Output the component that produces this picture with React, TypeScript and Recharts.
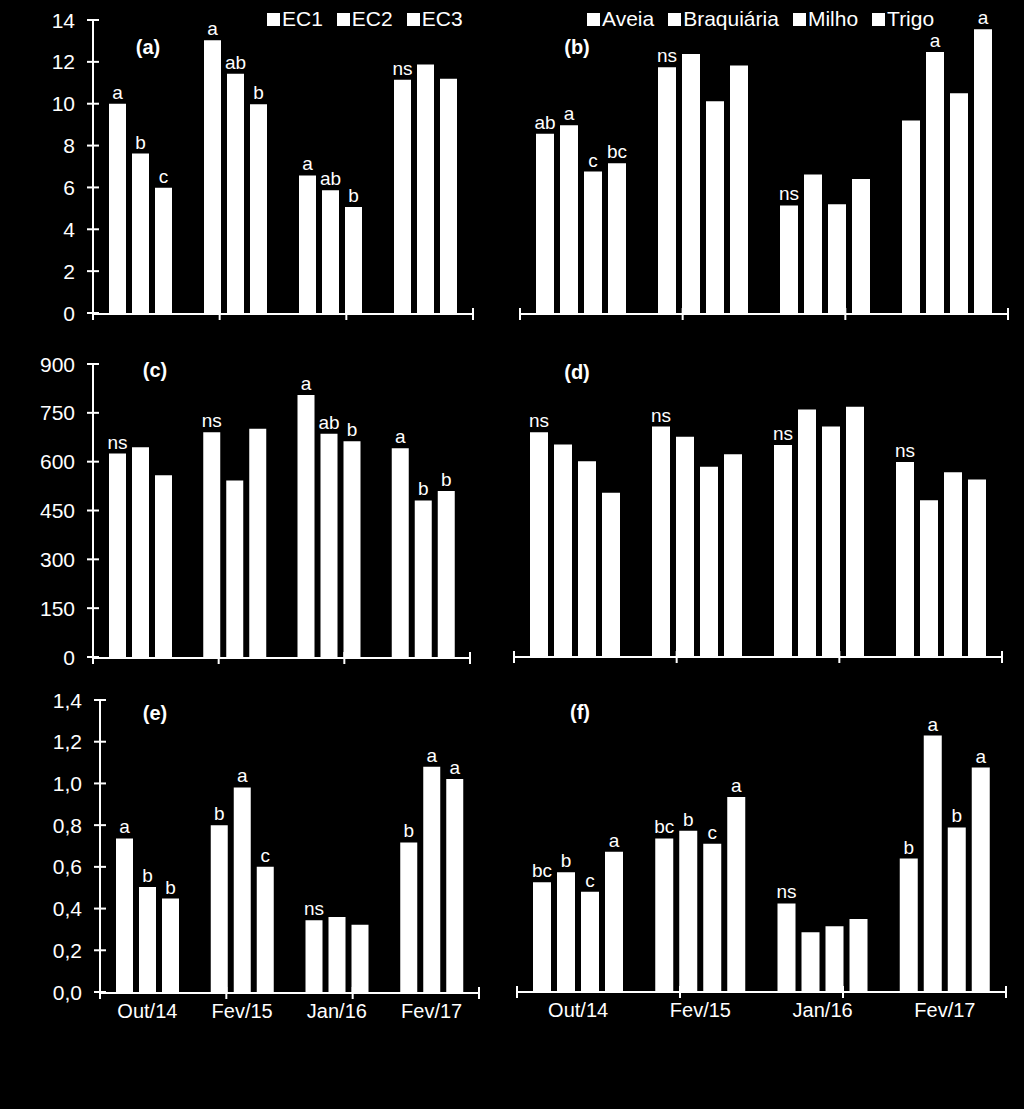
import { BarChart, Bar, XAxis, YAxis, LabelList, Legend } from 'recharts'

const FONT = '"Liberation Sans", Arial, Helvetica, sans-serif'
const WHITE = '#ffffff'

// ── categorias e nomes das séries ────────────────────────────────────────────
const periods = ['Out/14', 'Fev/15', 'Jan/16', 'Fev/17']
const ecNames = ['EC1', 'EC2', 'EC3']
const coverNames = ['Aveia', 'Braquiária', 'Milho', 'Trigo']

// ── (a) ──────────────────────────────────────────────────────────────────────
const ec1A = [10.0, 13.03, 6.57, 11.14]
const ec2A = [7.62, 11.43, 5.86, 11.87]
const ec3A = [5.98, 9.97, 5.06, 11.19]
const marksA = [['a', 'a', 'a', 'ns'], ['b', 'ab', 'ab', ''], ['c', 'b', 'b', '']]

// ── (b) ──────────────────────────────────────────────────────────────────────
const aveiaB = [8.57, 11.74, 5.14, 9.2]
const braqB = [8.97, 12.38, 6.62, 12.47]
const milhoB = [6.76, 10.12, 5.2, 10.5]
const trigoB = [7.16, 11.82, 6.4, 13.56]
const marksB = [['ab', 'ns', 'ns', ''], ['a', '', '', 'a'], ['c', '', '', ''], ['bc', '', '', 'a']]

// ── (c) ──────────────────────────────────────────────────────────────────────
const ec1C = [625, 690, 805, 641]
const ec2C = [644, 542, 686, 481]
const ec3C = [558, 701, 663, 510]
const marksC = [['ns', 'ns', 'a', 'a'], ['', '', 'ab', 'b'], ['', '', 'b', 'b']]

// ── (d) ──────────────────────────────────────────────────────────────────────
const aveiaD = [690, 707, 650, 598]
const braqD = [652, 676, 760, 480]
const milhoD = [600, 583, 707, 566]
const trigoD = [503, 622, 768, 544]
const marksD = [['ns', 'ns', 'ns', 'ns'], ['', '', '', ''], ['', '', '', ''], ['', '', '', '']]

// ── (e) ──────────────────────────────────────────────────────────────────────
const ec1E = [0.736, 0.8, 0.344, 0.717]
const ec2E = [0.504, 0.981, 0.359, 1.08]
const ec3E = [0.448, 0.6, 0.322, 1.021]
const marksE = [['a', 'b', 'ns', 'b'], ['b', 'a', '', 'a'], ['b', 'c', '', 'a']]

// ── (f) ──────────────────────────────────────────────────────────────────────
const aveiaF = [0.523, 0.734, 0.421, 0.637]
const braqF = [0.571, 0.771, 0.283, 1.229]
const milhoF = [0.477, 0.709, 0.312, 0.787]
const trigoF = [0.67, 0.933, 0.346, 1.075]
const marksF = [['bc', 'bc', 'ns', 'b'], ['b', 'b', '', 'a'], ['c', 'c', '', 'b'], ['a', 'a', '', 'a']]

// ── ticks do eixo y ──────────────────────────────────────────────────────────
const ticksTop = [0, 2, 4, 6, 8, 10, 12, 14]
const ticksMid = [0, 150, 300, 450, 600, 750, 900]
const ticksBot = [0, 0.2, 0.4, 0.6, 0.8, 1.0, 1.2, 1.4]
const edgeTicks = [0, 1, 2, 3, 4]

const M = 60

interface Box { x: number; y: number; w: number; h: number }

interface PanelProps {
  box: Box
  names: string[]
  values: number[][]
  marks: string[][]
  yMax: number
  yTicks: number[]
  yFmt: (v: number) => string
  showY: boolean
  showCats: boolean
  barSize: number
  barGap: number
  legendAt?: { x: number; y: number }
}

function YTick(p: any) {
  const { x, y, payload, fmt } = p
  return (
    <g>
      <line x1={x - 6} x2={x + 6} y1={y} y2={y} stroke={WHITE} strokeWidth={2} />
      <text x={x - 18} y={y} dy="0.36em" textAnchor="end" fill={WHITE} fontSize={21} fontFamily={FONT}>
        {fmt(payload.value)}
      </text>
    </g>
  )
}

function EdgeTick(p: any) {
  return <line x1={p.x} x2={p.x} y1={p.y - 6} y2={p.y + 6} stroke={WHITE} strokeWidth={2} />
}

function markLabel(p: any, marks: string[]) {
  const vb = p.viewBox ?? {}
  const x = p.x ?? vb.x
  const y = p.y ?? vb.y
  const w = p.width ?? vb.width
  const txt = marks[p.index]
  if (!txt || x == null) return null
  return (
    <text x={x + w / 2} y={y - 5} textAnchor="middle" fill={WHITE} fontSize={19} fontFamily={FONT}>
      {txt}
    </text>
  )
}

function LegendRow({ names }: { names: string[] }) {
  return (
    <div style={{ display: 'flex', alignItems: 'center', whiteSpace: 'nowrap', height: 24, fontFamily: FONT, fontSize: 21, color: WHITE, lineHeight: '24px' }}>
      {names.map((n, i) => (
        <div key={n} style={{ display: 'flex', alignItems: 'center', marginRight: i < names.length - 1 ? 14 : 0 }}>
          <span style={{ width: 13, height: 13, background: WHITE, marginRight: 2, display: 'inline-block' }} />
          <span>{n}</span>
        </div>
      ))}
    </div>
  )
}

function Panel(props: PanelProps) {
  const { box, names, values, marks, yMax, yTicks, yFmt, showY, showCats, barSize, barGap, legendAt } = props
  const rows = periods.map((period, i) => {
    const r: Record<string, any> = { period }
    values.forEach((v, k) => { r['s' + k] = v[i] })
    return r
  })
  const left = box.x - M
  const top = box.y - M
  // eixos com 1px de espessura (recharts não desenha eixo de tamanho 0)
  return (
    <div style={{ position: 'absolute', left, top }}>
      <BarChart
        width={box.w + 2 * M}
        height={box.h + 2 * M}
        data={rows}
        margin={{ top: M, right: M, bottom: M - 2, left: showY ? M - 1 : M }}
        barGap={barGap}
      >
        <XAxis
          xAxisId="edge"
          type="number"
          domain={[0, 4]}
          ticks={edgeTicks}
          allowDataOverflow
          height={1}
          axisLine={{ stroke: WHITE, strokeWidth: 2 }}
          tickLine={false}
          tickSize={0}
          tickMargin={0}
          interval={0}
          tick={(p: any) => <EdgeTick {...p} />}
        />
        <XAxis
          xAxisId="cat"
          dataKey="period"
          type="category"
          height={1}
          axisLine={false}
          tickLine={false}
          tickSize={0}
          tickMargin={12}
          interval={0}
          tick={showCats ? { fill: WHITE, fontSize: 20, fontFamily: FONT } : false}
        />
        <YAxis
          domain={[0, yMax]}
          ticks={yTicks}
          allowDataOverflow
          width={1}
          hide={!showY}
          axisLine={{ stroke: WHITE, strokeWidth: 2 }}
          tickLine={false}
          tickSize={0}
          tickMargin={0}
          interval={0}
          tick={(p: any) => <YTick {...p} fmt={yFmt} />}
        />
        {legendAt && (
          <Legend
            layout="horizontal"
            verticalAlign="middle"
            align="center"
            wrapperStyle={{ left: legendAt.x - left, top: legendAt.y - top, width: 'auto', height: 24 }}
            content={() => <LegendRow names={names} />}
          />
        )}
        {names.map((n, k) => (
          <Bar key={n} name={n} dataKey={'s' + k} xAxisId="cat" fill={WHITE} barSize={barSize} isAnimationActive={false}>
            <LabelList dataKey={'s' + k} content={(p: any) => markLabel(p, marks[k])} />
          </Bar>
        ))}
      </BarChart>
    </div>
  )
}

const intFmt = (v: number) => String(v)
const commaFmt = (v: number) => v.toFixed(1).replace('.', ',')

const panelLetters = [
  { t: '(a)', x: 148, y: 47 },
  { t: '(b)', x: 577, y: 47 },
  { t: '(c)', x: 155, y: 370 },
  { t: '(d)', x: 577, y: 372 },
  { t: '(e)', x: 155, y: 713 },
  { t: '(f)', x: 580, y: 712 },
]

export default function App() {
  return (
    <div style={{ position: 'absolute', left: 0, top: 0, width: 1024, height: 1109, background: '#000', overflow: 'hidden', fontFamily: FONT }}>
      <Panel
        box={{ x: 93, y: 20, w: 380, h: 293 }}
        names={ecNames} values={[ec1A, ec2A, ec3A]} marks={marksA}
        yMax={14} yTicks={ticksTop} yFmt={intFmt} showY showCats={false}
        barSize={17} barGap={6} legendAt={{ x: 267, y: 7 }}
      />
      <Panel
        box={{ x: 520, y: 20, w: 488, h: 293 }}
        names={coverNames} values={[aveiaB, braqB, milhoB, trigoB]} marks={marksB}
        yMax={14} yTicks={ticksTop} yFmt={intFmt} showY={false} showCats={false}
        barSize={18} barGap={6} legendAt={{ x: 587, y: 7 }}
      />
      <Panel
        box={{ x: 93, y: 364, w: 377, h: 293 }}
        names={ecNames} values={[ec1C, ec2C, ec3C]} marks={marksC}
        yMax={900} yTicks={ticksMid} yFmt={intFmt} showY showCats={false}
        barSize={17} barGap={6}
      />
      <Panel
        box={{ x: 514, y: 364, w: 488, h: 292 }}
        names={coverNames} values={[aveiaD, braqD, milhoD, trigoD]} marks={marksD}
        yMax={900} yTicks={ticksMid} yFmt={intFmt} showY={false} showCats={false}
        barSize={18} barGap={6}
      />
      <Panel
        box={{ x: 100, y: 700, w: 379, h: 292 }}
        names={ecNames} values={[ec1E, ec2E, ec3E]} marks={marksE}
        yMax={1.4} yTicks={ticksBot} yFmt={commaFmt} showY showCats
        barSize={17} barGap={6}
      />
      <Panel
        box={{ x: 517, y: 700, w: 489, h: 291 }}
        names={coverNames} values={[aveiaF, braqF, milhoF, trigoF]} marks={marksF}
        yMax={1.4} yTicks={ticksBot} yFmt={commaFmt} showY={false} showCats
        barSize={18} barGap={6}
      />
      {panelLetters.map(l => (
        <div
          key={l.t}
          style={{ position: 'absolute', left: l.x, top: l.y, transform: 'translate(-50%, -50%)', color: WHITE, fontSize: 20, fontWeight: 'bold', lineHeight: 1 }}
        >
          {l.t}
        </div>
      ))}
    </div>
  )
}
